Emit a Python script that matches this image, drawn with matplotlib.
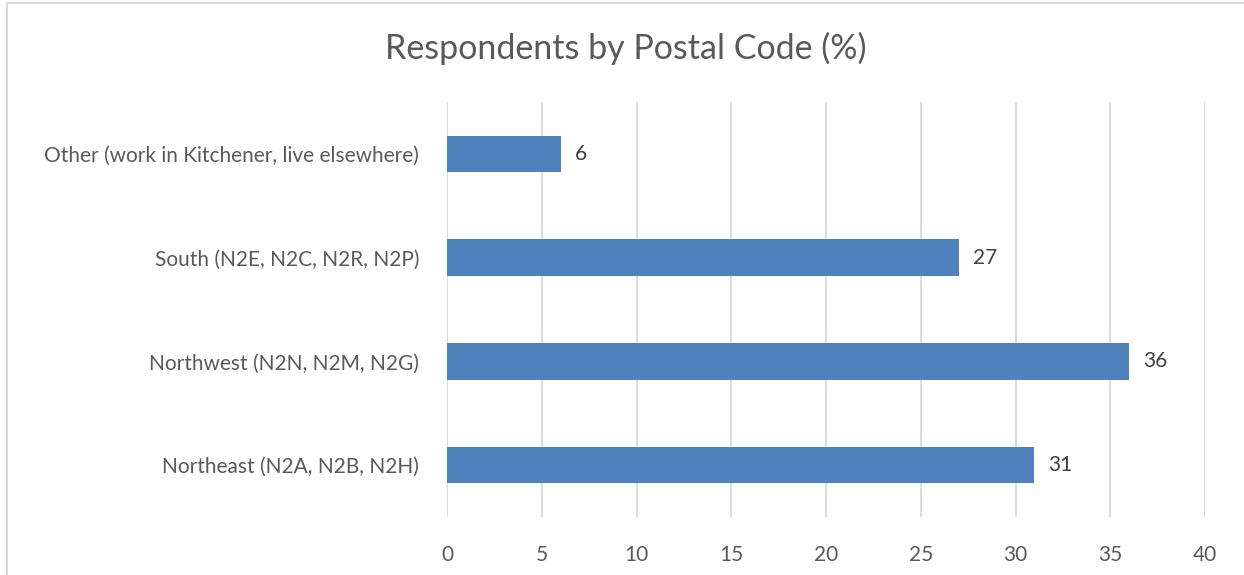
import matplotlib
matplotlib.use("Agg")
import matplotlib.pyplot as plt
from matplotlib.patches import Rectangle

categories = ["Northeast (N2A, N2B, N2H)", "Northwest (N2N, N2M, N2G)",
              "South (N2E, N2C, N2R, N2P)", "Other (work in Kitchener, live elsewhere)"]
values = [31, 36, 27, 6]
xticks = [0, 5, 10, 15, 20, 25, 30, 35, 40]

plt.rcParams['font.family'] = ['Lato', 'DejaVu Sans']

fig = plt.figure(figsize=(12.44, 5.75), dpi=100)
ax = fig.add_axes([447/1244, 1-517/575, (1205-447)/1244, (517-102)/575])

ypos = list(range(len(categories)))
ax.barh(ypos, values, height=0.35, color="#4F81BD", zorder=3)
for y, v in zip(ypos, values):
    ax.annotate(str(v), (v, y), xytext=(10, 0), textcoords="offset points",
                va="center", ha="left", fontsize=15, color="#404040")

ax.set_xlim(0, 40)
ax.set_ylim(-0.5, 3.5)
ax.set_xticks(xticks)
ax.set_xticklabels([str(t) for t in xticks])
ax.set_yticks(ypos)
ax.set_yticklabels(categories)
ax.tick_params(axis="both", length=0, labelsize=15, labelcolor="#595959")
ax.tick_params(axis="x", pad=20)
ax.tick_params(axis="y", pad=20)
ax.grid(axis="x", color="#d9d9d9", linewidth=1.3, zorder=0)
for s in ax.spines.values():
    s.set_visible(False)

fig.text(626/1244, 1-48/575, "Respondents by Postal Code (%)", ha="center", va="center",
         fontsize=24.5, color="#595959")

fig.patches.append(Rectangle((7/1244, -0.1), 1.2, 1-3/575+0.1, transform=fig.transFigure,
                             fill=False, edgecolor="#d9d9d9", linewidth=1.5))

fig.savefig("out.png", dpi=100)
